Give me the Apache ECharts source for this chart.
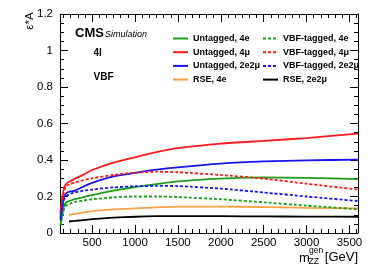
<!DOCTYPE html>
<html><head><meta charset="utf-8">
<script src="https://cdn.jsdelivr.net/npm/echarts@6/dist/echarts.min.js"></script>
<style>html,body{margin:0;padding:0;background:#fff;}#c{width:374px;height:268px;}</style>
</head><body><div id="c"></div>
<script>
// ---- data ----
var xMain = [130, 150, 175, 200, 250, 300, 400, 500, 750, 1000, 1250, 1500, 2000, 2500, 3000, 3600];
var untagged4e   = [0.04, 0.10, 0.15, 0.170, 0.178, 0.185, 0.197, 0.208, 0.232, 0.252, 0.268, 0.283, 0.298, 0.305, 0.302, 0.295];
var untagged4mu  = [0.11, 0.19, 0.25, 0.272, 0.285, 0.298, 0.320, 0.345, 0.385, 0.415, 0.443, 0.465, 0.490, 0.505, 0.520, 0.545];
var untagged2e2mu= [0.08, 0.15, 0.20, 0.220, 0.228, 0.232, 0.255, 0.275, 0.310, 0.330, 0.347, 0.360, 0.380, 0.392, 0.398, 0.402];
var vbf4e        = [0.04, 0.09, 0.135,0.152, 0.162, 0.170, 0.178, 0.185, 0.195, 0.200, 0.200, 0.197, 0.185, 0.168, 0.150, 0.130];
var vbf4mu       = [0.10, 0.18, 0.235,0.258, 0.270, 0.278, 0.290, 0.300, 0.318, 0.330, 0.336, 0.333, 0.318, 0.298, 0.270, 0.238];
var vbf2e2mu     = [0.07, 0.14, 0.185,0.203, 0.215, 0.222, 0.232, 0.238, 0.250, 0.256, 0.258, 0.257, 0.243, 0.222, 0.200, 0.175];
var xRSE = [230, 300, 400, 500, 750, 1000, 1250, 1500, 2000, 2500, 3000, 3600];
var rse4e    = [0.100, 0.105, 0.113, 0.120, 0.130, 0.135, 0.140, 0.145, 0.145, 0.142, 0.138, 0.135];
var rse2e2mu = [0.063, 0.066, 0.071, 0.076, 0.084, 0.089, 0.092, 0.093, 0.092, 0.091, 0.090, 0.089];
var xTicks = [500, 1000, 1500, 2000, 2500, 3000, 3500];
var names = ['Untagged, 4e','Untagged, 4\u03bc','Untagged, 2e2\u03bc','RSE, 4e','VBF-tagged, 4e','VBF-tagged, 4\u03bc','VBF-tagged, 2e2\u03bc','RSE, 2e2\u03bc'];

var X_MIN = 125, X_MAX = 3600;
var xMinor = [];
for (var k = 1; k * 500 / 6 < X_MAX; k++) { if (k % 6 !== 0 && k * 500 / 6 > X_MIN) xMinor.push(k * 500 / 6); }

function pairs(xs, ys) { return xs.map(function (x, i) { return [x, ys[i]]; }); }

var GREEN = '#1a9e1a', RED = '#ff1a1a', BLUE = '#1515f0', ORANGE = '#ffa040', BLACK = '#000000';
function ser(name, xs, ys, color, dashed) {
  return { name: name, type: 'line', data: pairs(xs, ys), symbol: 'none', smooth: 0.2,
    xAxisIndex: 0, yAxisIndex: 0,
    lineStyle: { color: color, width: 1.8, type: dashed ? [3, 2] : 'solid' },
    itemStyle: { color: color }, z: 3 };
}

var FONT = 'Liberation Sans, Arial, sans-serif';
var baseX = { type: 'value', min: X_MIN, max: X_MAX, gridIndex: 0, splitLine: { show: false } };
function xAx(pos, minor, labels) {
  var vals = minor ? xMinor : xTicks;
  return Object.assign({}, baseX, {
    position: pos,
    axisLine: { show: !minor, onZero: false, lineStyle: { color: '#000', width: 1 } },
    axisTick: { show: true, inside: true, length: minor ? 4 : 8, customValues: vals, lineStyle: { color: '#000' } },
    axisLabel: { show: !!labels, customValues: xTicks, color: '#000', fontSize: 11.5, fontFamily: FONT, margin: 4,
      formatter: function (v) { return String(v); } }
  });
}
function yAx(pos, labels) {
  return { type: 'value', min: 0, max: 1.2, interval: 0.2, position: pos, gridIndex: 0,
    splitLine: { show: false },
    axisLine: { show: true, lineStyle: { color: '#000', width: 1 } },
    axisTick: { show: true, inside: true, length: 8, lineStyle: { color: '#000' } },
    minorTick: { show: true, splitNumber: 4, length: 4, lineStyle: { color: '#000' } },
    axisLabel: { show: labels, color: '#000', fontSize: 11.5, fontFamily: FONT, margin: 7,
      formatter: function (v) { return String(Math.round(v * 10) / 10); } }
  };
}

var chart = echarts.init(document.getElementById('c'), null, { renderer: 'canvas' });
var legText = { fontSize: 9, fontWeight: 'bold', fontFamily: FONT, color: '#000', lineHeight: 11 };
var legCommon = { orient: 'vertical', top: 33, itemWidth: 15, itemHeight: 11, itemGap: 2.7, padding: 0,
  textStyle: legText, itemStyle: { opacity: 0, borderWidth: 0 } };
chart.setOption({
  animation: false,
  backgroundColor: '#fff',
  grid: { left: 60, right: 16, top: 14, bottom: 35, containLabel: false },
  xAxis: [xAx('bottom', false, true), xAx('top', false, false), xAx('bottom', true, false), xAx('top', true, false)],
  yAxis: [yAx('left', true), yAx('right', false)],
  legend: [
    Object.assign({ data: names.slice(0, 4), left: 172 }, legCommon),
    Object.assign({ data: names.slice(4, 8), left: 262 }, legCommon)
  ],
  series: [
    ser(names[0], xMain, untagged4e, GREEN, false),
    ser(names[1], xMain, untagged4mu, RED, false),
    ser(names[2], xMain, untagged2e2mu, BLUE, false),
    ser(names[3], xRSE, rse4e, ORANGE, false),
    ser(names[4], xMain, vbf4e, GREEN, true),
    ser(names[5], xMain, vbf4mu, RED, true),
    ser(names[6], xMain, vbf2e2mu, BLUE, true),
    ser(names[7], xRSE, rse2e2mu, BLACK, false)
  ],
  graphic: [
    { type: 'text', x: 30, y: 21, rotation: Math.PI / 2, style: { text: '\u03b5*A', font: '11.5px ' + FONT, fill: '#000', align: 'center', verticalAlign: 'middle' } },
    { type: 'text', x: 75, y: 33.5, style: { text: 'CMS', font: 'bold 13px ' + FONT, fill: '#000', verticalAlign: 'middle' } },
    { type: 'text', x: 105, y: 34, style: { text: 'Simulation', font: 'italic 9px ' + FONT, fill: '#000', verticalAlign: 'middle' } },
    { type: 'text', x: 93.5, y: 53, style: { text: '4l', font: 'bold 10px ' + FONT, fill: '#000', verticalAlign: 'middle' } },
    { type: 'text', x: 93.5, y: 77.5, style: { text: 'VBF', font: 'bold 10px ' + FONT, fill: '#000', verticalAlign: 'middle' } },
    { type: 'text', x: 299, y: 258, style: { text: 'm', font: '13px ' + FONT, fill: '#000', verticalAlign: 'middle' } },
    { type: 'text', x: 309, y: 250.5, style: { text: 'gen', font: '8.5px ' + FONT, fill: '#000', verticalAlign: 'middle' } },
    { type: 'text', x: 308.5, y: 262, style: { text: 'ZZ', font: '8.5px ' + FONT, fill: '#000', verticalAlign: 'middle' } },
    { type: 'text', x: 358, y: 257.5, style: { text: '[GeV]', font: '13px ' + FONT, fill: '#000', align: 'right', verticalAlign: 'middle' } }
  ]
});
</script></body></html>
